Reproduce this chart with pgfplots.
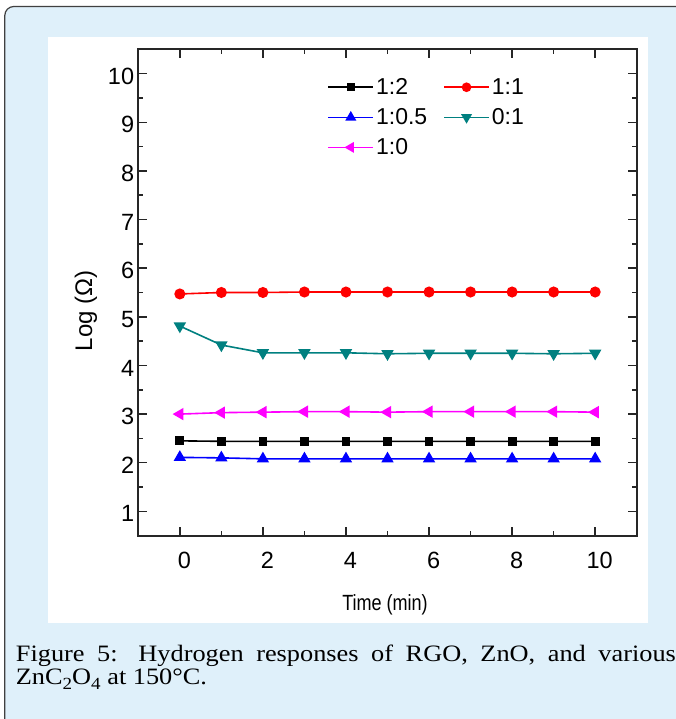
\documentclass[border=0pt]{standalone}
\usepackage{pgfplots}
\pgfplotsset{compat=1.18}
\usepackage{fontspec}
\setmainfont{Liberation Sans}
\newfontfamily\capfont[FakeStretch=1.12]{Liberation Serif}
\definecolor{bgblue}{HTML}{DFF0FA}
\definecolor{tealc}{HTML}{008080}
\definecolor{magc}{HTML}{FF00FF}
\definecolor{redc}{HTML}{FF0000}
\definecolor{bluec}{HTML}{0000FF}
\newcommand{\sub}[1]{\raisebox{-0.2em}{\fontsize{17}{17}\selectfont #1}}
\begin{document}
\begin{tikzpicture}[x=1pt,y=1pt]
\useasboundingbox (0,0) rectangle (676,719);
\clip (0,0) rectangle (676,719);
\draw[draw=black!75, line width=1.2pt, fill=bgblue, rounded corners=9pt] (4.8,-30) rectangle (720,712.5);
\fill[white] (48.3,95.7) rectangle (648.3,681.7);
\begin{axis}[
  at={(138.3pt,183.3pt)}, anchor=south west,
  scale only axis, width=498.4pt, height=486.4pt,
  xmin=-1, xmax=11, ymin=0.5, ymax=10.5,
  xtick={0,2,...,10}, minor xtick={1,3,...,9},
  ytick={1,2,...,10}, minor ytick={1.5,2.5,...,9.5},
  tick align=inside, major tick length=9pt, minor tick length=5pt,
  every tick/.style={black!85, line width=1.5pt},
  axis line style={black!85, line width=1.7pt},
  /pgf/number format/assume math mode=true,
  tick label style={font=\fontsize{23.5}{24}\selectfont},
  xticklabel style={anchor=north, inner sep=0pt, yshift=-16pt, xshift=4.5pt},
  yticklabel style={anchor=east, inner sep=0pt, xshift=-4pt, yshift=-2.5pt},
  every axis y label/.style={at={(axis description cs:-0.105,0.462)}, rotate=90, anchor=center, font=\fontsize{24}{24}\selectfont},
  every axis x label/.style={at={(axis description cs:0.495,-0.143)}, anchor=center, font=\fontsize{22}{22}\selectfont},
  ylabel={Log (Ω)},
  xlabel={\scalebox{0.82}[1]{Time (min)}},
  legend columns=2,
  legend cell align=left,
  legend style={draw=none, fill=none, at={(axis description cs:0.3792,0.9445)}, anchor=north west, inner sep=0pt, row sep=8.5pt, font=\fontsize{23}{24}\selectfont, nodes={inner sep=2pt}, /tikz/every even column/.append style={column sep=14pt}},
  legend image code/.code={\draw[mark repeat=2,mark phase=2,#1, every mark/.append style={scale=0.85}] plot coordinates {(0pt,0pt) (22.5pt,0pt) (45pt,0pt)};},
  every axis plot/.append style={line width=1.6pt},
]
\addplot[black, mark=square*, mark size=3.6pt] coordinates {(0,2.45) (1,2.44) (2,2.44) (3,2.44) (4,2.44) (5,2.44) (6,2.44) (7,2.44) (8,2.44) (9,2.44) (10,2.44)};
\addlegendentry{1:2}
\addplot[redc, mark=*, mark size=4.7pt] coordinates {(0,5.47) (1,5.50) (2,5.50) (3,5.51) (4,5.51) (5,5.51) (6,5.51) (7,5.51) (8,5.51) (9,5.51) (10,5.51)};
\addlegendentry{1:1}
\addplot[bluec, mark=triangle*, mark size=5.6pt] coordinates {(0,2.11) (1,2.10) (2,2.08) (3,2.08) (4,2.08) (5,2.08) (6,2.08) (7,2.08) (8,2.08) (9,2.08) (10,2.08)};
\addlegendentry{1:0.5}
\addplot[tealc, mark=triangle*, mark size=5.6pt, mark options={rotate=180}] coordinates {(0,4.81) (1,4.42) (2,4.26) (3,4.26) (4,4.26) (5,4.24) (6,4.25) (7,4.25) (8,4.25) (9,4.24) (10,4.25)};
\addlegendentry{0:1}
\addplot[magc, mark=triangle*, mark size=5.6pt, mark options={rotate=90}] coordinates {(0,3.00) (1,3.03) (2,3.04) (3,3.05) (4,3.05) (5,3.04) (6,3.05) (7,3.05) (8,3.05) (9,3.05) (10,3.04)};
\addlegendentry{1:0}
\end{axis}
\node[anchor=base west, inner sep=0pt, font=\capfont\fontsize{23.5}{23.5}\selectfont] at (15.7,57.3) {\makebox[660pt][s]{Figure 5: Hydrogen responses of RGO, ZnO, and various}};
\node[anchor=base west, inner sep=0pt, font=\capfont\fontsize{23.5}{23.5}\selectfont] at (15.7,34) {ZnC\sub{2}O\sub{4} at 150°C.};
\end{tikzpicture}
\end{document}
